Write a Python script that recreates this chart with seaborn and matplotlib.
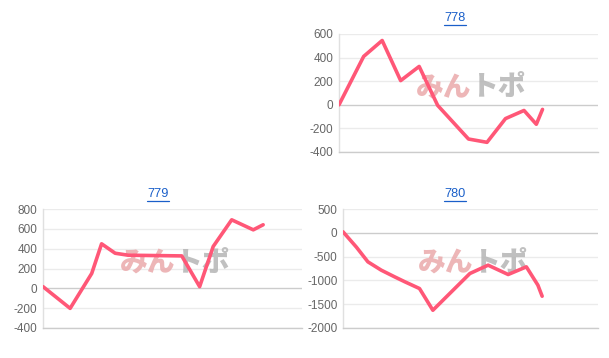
import matplotlib
matplotlib.use("Agg")
import matplotlib.pyplot as plt
import seaborn as sns
import pandas as pd
from matplotlib.lines import Line2D

sns.set_theme(style="white")
plt.rcParams['font.family'] = ['Liberation Sans', 'Noto Sans CJK JP', 'DejaVu Sans']

# ---- data ----
x_778 = [0, 4, 7, 10, 13, 16, 21, 24, 27, 30, 32, 33]
y_778 = [0, 410, 545, 205, 325, -5, -290, -318, -117, -48, -165, -39]

x_779 = [0, 4.4, 7.9, 9.5, 11.7, 13.8, 22.5, 25.4, 27.6, 30.6, 34.1, 35.7]
y_779 = [17, -202, 150, 449, 354, 334, 327, 17, 422, 691, 590, 641]

x_780 = [0, 2.2, 4.1, 6.3, 8.5, 10.2, 12.6, 14.8, 20.9, 23.9, 27.2, 30.2, 32.1, 32.8]
y_780 = [21, -300, -610, -785, -925, -1030, -1171, -1627, -855, -680, -876, -715, -1100, -1332]

titles = ["778", "779", "780"]
yticks_778 = [-400, -200, 0, 200, 400, 600]
yticks_779 = [-400, -200, 0, 200, 400, 600, 800]
yticks_780 = [-2000, -1500, -1000, -500, 0, 500]
x_max = 42

W, H = 609, 358
fig = plt.figure(figsize=(W / 100, H / 100), dpi=100)

def px_axes(l, t, r, b):
    return fig.add_axes([l / W, 1 - b / H, (r - l) / W, (b - t) / H])

LINE_COLOR = "#ff5777"
TICK_COLOR = "#666666"

panels = [
    (titles[0], x_778, y_778, yticks_778, (339, 34, 598, 152), 455, 18),
    (titles[1], x_779, y_779, yticks_779, (43, 209, 302, 328), 158, 194),
    (titles[2], x_780, y_780, yticks_780, (343, 209, 598, 328), 455, 194),
]

for title, xs, ys, yt, box, tx, ty in panels:
    ax = px_axes(*box)
    df = pd.DataFrame({"x": xs, "y": ys})
    ax.set_xlim(0, x_max)
    ax.set_ylim(yt[0], yt[-1])
    ax.set_yticks(yt)
    ax.set_yticklabels([str(v) for v in yt])
    ax.set_xticks([])
    for v in yt:
        ax.axhline(v, color="#cccccc" if v == 0 else "#ebebeb", lw=1.0, zorder=0)
    for s in ["top", "right"]:
        ax.spines[s].set_visible(False)
    ax.spines["left"].set_color("#e0e0e0")
    ax.spines["bottom"].set_color("#cccccc")
    ax.spines["left"].set_linewidth(1.0)
    ax.spines["bottom"].set_linewidth(1.0)
    ax.tick_params(axis="y", length=0, pad=4, labelsize=8.5, labelcolor=TICK_COLOR)
    # watermark
    ax.text(0.51, 0.55, "みん", transform=ax.transAxes, ha="right", va="center",
            fontsize=20, fontweight="heavy", color="#eaa9ab", alpha=0.85,
            family=["Noto Sans CJK JP"], zorder=1)
    ax.text(0.51, 0.55, "トポ", transform=ax.transAxes, ha="left", va="center",
            fontsize=20, fontweight="heavy", color="#b5b5b5", alpha=0.85,
            family=["Noto Sans CJK JP"], zorder=1)
    sns.lineplot(data=df, x="x", y="y", ax=ax, sort=False, color=LINE_COLOR,
                 lw=2.6, zorder=3, estimator=None)
    ax.set_xlabel("")
    ax.set_ylabel("")
    # title as link
    fig.text(tx / W, 1 - ty / H, title, ha="center", va="center",
             fontsize=9.2, color="#1a5fc9")
    fig.add_artist(Line2D([(tx - 11) / W, (tx + 11) / W],
                          [1 - (ty + 6.5) / H, 1 - (ty + 6.5) / H],
                          color="#1a5fc9", lw=0.9))

fig.savefig("out.png", dpi=100, facecolor="white")
